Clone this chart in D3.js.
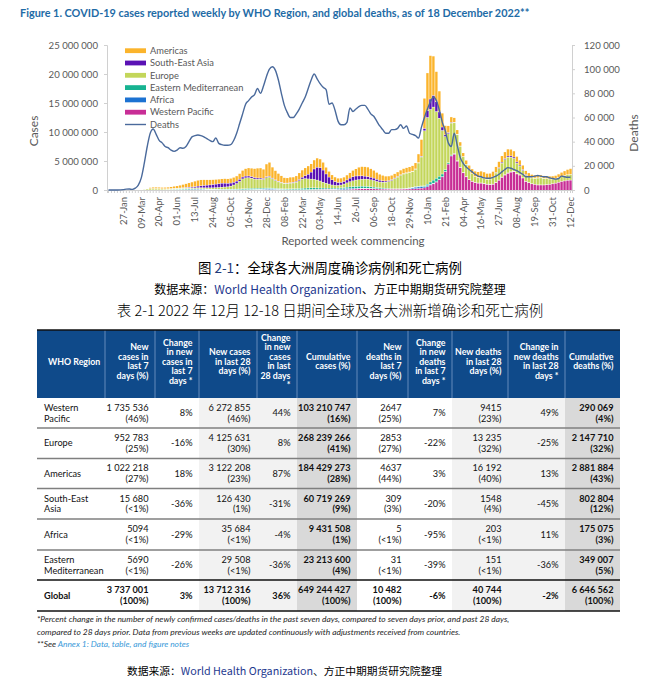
<!DOCTYPE html>
<html>
<head>
<meta charset="utf-8">
<script src="https://d3js.org/d3.v7.min.js"></script>
<style>
  body{margin:0;background:#fff;}
  svg{display:block;font-family:Lato, "Noto Sans", sans-serif;}
  .cjk{font-family:"Noto Sans CJK SC", sans-serif;}
</style>
</head>
<body>
<script>
// ---- weekly cases by region (thousands), first week 23-Dec-2019 ----
var americas = [0,
0,0,0,0,0,0,0,0,0,0,
2,15,70,180,220,230,230,230,240,270,
320,380,420,480,560,650,750,850,950,1020,
1050,1000,950,900,850,820,780,780,800,800,
820,860,900,1000,1150,1300,1400,1450,1550,1700,
1750,1600,2200,2400,1900,1600,1350,1150,950,900,
950,900,950,1150,1250,1350,1450,1450,1550,1600,
1500,1350,1150,1000,850,800,750,750,750,850,
950,1100,1250,1500,1600,1650,1650,1500,1350,1200,
1050,950,850,780,750,760,780,800,850,880,
900,950,1050,1500,2900,5200,6500,7500,6800,5200,
3600,2400,1600,1200,950,800,750,700,650,680,
720,800,900,1000,1050,1100,1000,950,950,1000,
1050,1100,1150,1200,1150,1050,950,850,750,650,
600,550,500,480,460,440,450,480,500,550,
600,700,800,900,1022.2];
var southEastAsia = [0,
0,0,0,0,0,0,0,0,0,0,
0,1,3,6,10,15,20,20,25,30,
40,50,60,75,90,110,130,160,200,260,
330,400,450,500,560,600,650,680,650,590,
530,470,410,360,320,300,290,280,260,230,
200,170,150,140,130,120,110,100,90,100,
110,120,150,200,300,500,800,1200,1800,2200,
2300,2100,1600,1200,900,650,500,450,450,500,
600,700,700,650,600,500,450,430,400,350,
300,250,200,170,150,130,110,100,90,80,
75,70,65,70,120,400,1200,1800,2000,1700,
1100,600,300,180,120,90,70,50,40,30,
30,30,30,30,30,30,40,60,80,100,
130,160,180,200,220,230,200,170,150,120,
100,80,70,60,50,45,40,35,30,25,
20,18,17,16,15.68];
var europe = [0,
0,0,0,0,0,0,0,0,1,10,
40,110,180,220,220,210,190,160,140,120,
110,110,110,120,130,140,140,140,145,160,
170,180,200,220,240,270,300,340,380,420,
520,700,950,1300,1700,1850,1850,1750,1600,1550,
1550,1500,1800,1900,1600,1350,1150,1000,900,900,
950,1000,1100,1350,1600,1650,1550,1500,1450,1350,
1200,1000,850,700,550,480,450,480,600,750,
900,1000,1100,1150,1200,1250,1250,1200,1150,1050,
1000,1000,1050,1200,1400,1700,2000,2300,2500,2600,
2650,2700,3000,4000,5000,9500,11500,12500,12600,11500,
10000,7500,5700,5000,5500,5300,4500,3600,2700,2100,
1700,1300,1000,900,950,850,800,900,1150,1600,
2000,2400,2600,2700,2500,2200,1800,1500,1250,1050,
950,950,1000,1150,1200,1100,1000,900,800,750,
800,850,900,950,952.8];
var easternMed = [0,
0,0,0,0,0,0,0,0,0,1,
5,15,25,30,40,45,50,55,65,75,
90,100,110,120,130,130,130,120,115,110,
100,95,90,90,90,95,100,110,110,110,
115,120,125,140,160,180,200,200,190,180,
170,160,150,140,135,130,125,125,130,140,
150,165,180,200,230,260,280,290,280,260,
240,220,200,190,180,170,170,180,200,230,
270,310,330,340,340,320,300,270,240,210,
180,160,140,120,110,100,95,95,95,95,
95,95,100,110,130,150,250,400,550,600,
550,450,320,220,150,100,70,50,40,30,
25,20,20,20,20,20,20,25,30,35,
40,50,60,70,70,65,60,50,40,35,
30,25,20,18,15,12,10,10,9,8,
7,7,6,6,5.69];
var africa = [0,
0,0,0,0,0,0,0,0,0,0,
0,1,2,5,7,9,12,15,20,25,
30,40,50,60,75,90,110,125,130,130,
120,100,80,65,55,50,45,40,35,35,
35,40,40,45,50,55,60,65,75,85,
100,120,140,150,140,120,100,80,60,50,
45,40,40,40,40,40,40,40,40,40,
40,40,45,55,70,90,120,150,170,180,
160,140,120,100,90,80,70,60,50,40,
30,25,20,18,15,15,15,15,18,40,
100,180,250,270,250,200,180,120,80,60,
50,40,30,25,20,20,20,20,20,20,
20,20,25,30,40,40,30,30,25,20,
20,20,20,20,20,20,15,15,15,15,
12,12,10,10,10,10,8,8,7,7,
6,6,5,5,5.09];
var westernPacific = [0,
0,0,0,1,10,20,30,12,5,5,
8,10,15,20,20,15,10,8,7,7,
7,7,8,10,12,14,16,20,25,35,
40,45,45,40,35,30,30,28,28,28,
28,30,32,35,40,45,50,55,60,65,
70,75,80,85,80,70,60,50,45,45,
45,50,55,55,55,60,70,80,90,95,
100,105,110,110,100,90,85,85,90,110,
140,170,200,230,250,260,270,260,240,220,
200,180,170,160,150,150,150,160,180,200,
220,240,260,300,350,400,600,900,1100,1400,
1800,2300,3200,4500,5900,6200,5000,3900,3000,2300,
1800,1500,1300,1200,1200,1100,1000,950,1000,1300,
1700,2200,2600,2900,3100,3200,2800,2600,2100,1500,
1300,1100,1000,900,900,900,950,1000,1100,1200,
1350,1500,1600,1700,1735.5];
// global weekly deaths (thousands)
var deaths = [
0,0,0,0,0.1,0.3,0.7,0.8,0.5,1.5,
4,10,22,36,47,50.5,46,41,39,36,
35,33,32,33,35,34.5,36,40,44,45,
45.5,45,44,42.5,41,40,43,38.6,37.5,37,
37,37.5,41,47,55,63,71,74,77,79,
84,80,86,94,100,102,99,91,80,70,
64,60,60,63,67,72,77,84,91,96,
92,88,85,83,71,72,66,57,54,54,
56,68,65,67,69,70,70,67,63,61,
57,53,50,47,47,50,50,51,54,51,
53,47,46,45,43,52,60,67,73,77,
74,66,56,49,39,36,47,37,27,22,
19,17,15,13,11.5,11,10,9.7,9.7,10.5,
11.5,13,15,17,18.5,18,17,16,14.5,13,
11,11,11,11.5,12,11.5,11,11,10,9.5,
9,9.5,11.5,11,10.5,10.5];
// x tick labels, every 6th week starting with week index 5
var tickLabels = ["27-Jan","09-Mar","20-Apr","01-Jun","13-Jul","24-Aug","05-Oct","16-Nov","28-Dec",
  "08-Feb","22-Mar","03-May","14-Jun","26-Jul","06-Sep","18-Oct","29-Nov",
  "10-Jan","21-Feb","04-Apr","16-May","27-Jun","08-Aug","19-Sep","31-Oct","12-Dec"];
var regionKeys = ["westernPacific","africa","easternMed","europe","southEastAsia","americas"];
var regionNames = ["Western Pacific","Africa","Eastern Mediterranean","Europe","South-East Asia","Americas"];
var regionColors = ["#c82e96","#1c72d2","#17b391","#c3d65a","#5a12b4","#fbb42c"];
var deathColor = "#4a6a9c";

// ---- table ----
var tableRegions = [["Western","Pacific"],["Europe"],["Americas"],["South-East","Asia"],["Africa"],["Eastern","Mediterranean"],["Global"]];
var newCases7 = ["1 735 536","952 783","1 022 218","15 680","5094","5690","3 737 001"];
var newCases7Pct = ["(46%)","(25%)","(27%)","(<1%)","(<1%)","(<1%)","(100%)"];
var chgCases7 = ["8%","-16%","18%","-36%","-29%","-26%","3%"];
var newCases28 = ["6 272 855","4 125 631","3 122 208","126 430","35 684","29 508","13 712 316"];
var newCases28Pct = ["(46%)","(30%)","(23%)","(1%)","(<1%)","(<1%)","(100%)"];
var chgCases28 = ["44%","8%","87%","-31%","-4%","-36%","36%"];
var cumCases = ["103 210 747","268 239 266","184 429 273","60 719 269","9 431 508","23 213 600","649 244 427"];
var cumCasesPct = ["(16%)","(41%)","(28%)","(9%)","(1%)","(4%)","(100%)"];
var newDeaths7 = ["2647","2853","4637","309","5","31","10 482"];
var newDeaths7Pct = ["(25%)","(27%)","(44%)","(3%)","(<1%)","(<1%)","(100%)"];
var chgDeaths7 = ["7%","-22%","3%","-20%","-95%","-39%","-6%"];
var newDeaths28 = ["9415","13 235","16 192","1548","203","151","40 744"];
var newDeaths28Pct = ["(23%)","(32%)","(40%)","(4%)","(<1%)","(<1%)","(100%)"];
var chgDeaths28 = ["49%","-25%","13%","-45%","11%","-36%","-2%"];
var cumDeaths = ["290 069","2 147 710","2 881 884","802 804","175 075","349 007","6 646 562"];
var cumDeathsPct = ["(4%)","(32%)","(43%)","(12%)","(3%)","(5%)","(100%)"];
var headers = [["WHO Region"],["New","cases in","last 7","days (%)"],["Change","in new","cases in","last 7","days *"],
  ["New cases","in last 28","days (%)"],["Change","in new","cases","in last","28 days","*"],["Cumulative","cases (%)"],
  ["New","deaths in","last 7","days (%)"],["Change","in new","deaths","in last 7","days *"],
  ["New deaths","in last 28","days (%)"],["Change in","new deaths","in last 28","days *"],["Cumulative","deaths (%)"]];

var svg = d3.select("body").append("svg").attr("width",658).attr("height",682);

function fitWidth(t, target){
  var w = t.node().getComputedTextLength();
  var fs = parseFloat(t.attr("font-size"));
  t.attr("font-size", fs*target/w);
}

// title
var title = svg.append("text").attr("x",20).attr("y",17)
  .attr("font-size",12).attr("font-weight","bold").attr("fill","#1e6ba6")
  .text("Figure 1. COVID-19 cases reported weekly by WHO Region, and global deaths, as of 18 December 2022**");
fitWidth(title, 510);

// ---- chart ----
var nWeeks = deaths.length;
var x = d3.scaleBand().domain(d3.range(nWeeks)).range([107,572]).paddingInner(0.2).paddingOuter(0.1);
var yC = d3.scaleLinear().domain([0,25000000]).range([190,45]);
var yD = d3.scaleLinear().domain([0,120000]).range([190,45]);
var fmt = d3.formatLocale({decimal:".",thousands:" ",grouping:[3],currency:["",""]}).format(",d");

var series = {americas:americas, southEastAsia:southEastAsia, europe:europe,
  easternMed:easternMed, africa:africa, westernPacific:westernPacific};
var rows = d3.range(nWeeks).map(function(i){
  var r = {i:i};
  regionKeys.forEach(function(k){ r[k] = series[k][i]*1000; });
  return r;
});
var stacked = d3.stack().keys(regionKeys)(rows);

var bars = svg.append("g").selectAll("g").data(stacked).enter().append("g")
  .attr("fill", function(d,i){ return regionColors[i]; });
bars.selectAll("rect").data(function(d){ return d; }).enter().append("rect")
  .attr("x", function(d){ return x(d.data.i); })
  .attr("width", x.bandwidth())
  .attr("y", function(d){ return yC(d[1]) + 0.45; })
  .attr("height", function(d){ return Math.max(0, yC(d[0]) - yC(d[1]) - 0.45); });

// axes
function styleAxis(g){
  g.selectAll("path.domain").attr("stroke","#d0d0d0");
  g.selectAll(".tick line").attr("stroke","#d0d0d0");
  g.selectAll(".tick text").attr("fill","#595959").attr("font-family","Lato, sans-serif");
}
svg.append("g").attr("transform","translate(107,0)")
  .call(d3.axisLeft(yC).tickValues(d3.range(0,25000001,5000000)).tickFormat(fmt).tickSize(3).tickPadding(6))
  .attr("font-size",9.6).call(styleAxis);
svg.append("g").attr("transform","translate(572,0)")
  .call(d3.axisRight(yD).tickValues(d3.range(0,120001,20000)).tickFormat(fmt).tickSize(3).tickPadding(9))
  .attr("font-size",9.6).call(styleAxis);
var labelAt = {};
tickLabels.forEach(function(l,k){ labelAt[5+6*k] = l; });
var xAxisG = svg.append("g").attr("transform","translate(0,190)")
  .call(d3.axisBottom(x).tickValues(d3.range(nWeeks)).tickSizeOuter(0).tickSize(3)
    .tickFormat(function(i){ return labelAt[i] || ""; }))
  .attr("font-size",9.5).call(styleAxis);
xAxisG.selectAll(".tick text").attr("transform","rotate(-90)").attr("text-anchor","end")
  .attr("x",-7).attr("y",0).attr("dy","0.35em");

// deaths line
var line = d3.line().x(function(d,i){ return x(i) + x.bandwidth()/2; })
  .y(function(d){ return yD(d*1000); }).curve(d3.curveMonotoneX);
svg.append("path").datum(deaths).attr("d",line).attr("fill","none")
  .attr("stroke",deathColor).attr("stroke-width",1.4);

// axis titles
svg.append("text").attr("transform","translate(38,131) rotate(-90)").attr("text-anchor","middle")
  .attr("font-size",12).attr("fill","#595959").text("Cases");
svg.append("text").attr("transform","translate(638,133) rotate(-90)").attr("text-anchor","middle")
  .attr("font-size",12).attr("fill","#595959").text("Deaths");
svg.append("text").attr("x",353).attr("y",245).attr("text-anchor","middle")
  .attr("font-size",11.5).attr("fill","#595959").text("Reported week commencing");

// legend
var legendItems = regionNames.map(function(n,i){ return {name:n, color:regionColors[i]}; }).reverse();
legendItems.push({name:"Deaths", color:deathColor, line:true});
var lg = svg.append("g").selectAll("g").data(legendItems).enter().append("g")
  .attr("transform", function(d,i){ return "translate(125," + (50.7 + i*12.3) + ")"; });
lg.append("rect").attr("x",0).attr("width",21)
  .attr("y", function(d){ return d.line ? -0.7 : -2.4; })
  .attr("height", function(d){ return d.line ? 1.4 : 4.8; })
  .attr("fill", function(d){ return d.color; });
lg.append("text").attr("x",25).attr("dy","0.35em").attr("font-size",9.3).attr("fill","#595959")
  .text(function(d){ return d.name; });

// ---- captions ----
var cap1 = svg.append("text").attr("class","cjk").attr("x",330).attr("y",272.5).attr("text-anchor","middle")
  .attr("font-size",12.5).attr("fill","#000");
cap1.append("tspan").text("图 ");
cap1.append("tspan").attr("fill","#1f3a7a").text("2-1");
cap1.append("tspan").text("：全球各大洲周度确诊病例和死亡病例");
fitWidth(cap1, 264);

function sourceLine(y, fs, cx, w){
  var t = svg.append("text").attr("class","cjk").attr("x",cx).attr("y",y).attr("text-anchor","middle")
    .attr("font-size",fs).attr("fill","#000");
  t.append("tspan").text("数据来源：");
  t.append("tspan").attr("fill","#1f3a8f").text("World Health Organization");
  t.append("tspan").text("、方正中期期货研究院整理");
  fitWidth(t, w);
  if (parseFloat(t.attr("font-size")) > fs) t.attr("font-size", fs);
}
sourceLine(293.5, 12, 330, 374);

var tt = svg.append("text").attr("class","cjk").attr("x",330).attr("y",316).attr("text-anchor","middle")
  .attr("font-size",14.5).attr("font-weight",300).attr("fill","#000")
  .text("表 2-1 2022 年 12月 12-18 日期间全球及各大洲新增确诊和死亡病例");
fitWidth(tt, 474);
if (parseFloat(tt.attr("font-size")) > 14.5) tt.attr("font-size", 14.5);

// ---- table ----
var cols = [37,105,155,199,257,297,357,408,452,508,565,620];
var headTop = 330, headBottom = 398;
var rowLines = [398,428,458.5,488.5,519,550,580,611];
var colFill = ["#fff","#fff","#fff","#f2f2f2","#f2f2f2","#d9d9d9","#fff","#fff","#f2f2f2","#f2f2f2","#d9d9d9"];
var tg = svg.append("g");

tg.selectAll("rect.bg").data(colFill).enter().append("rect")
  .attr("x", function(d,i){ return cols[i]; }).attr("width", function(d,i){ return cols[i+1]-cols[i]; })
  .attr("y", headBottom).attr("height", rowLines[7]-headBottom).attr("fill", function(d){ return d; });
tg.append("rect").attr("x",cols[0]).attr("y",headTop).attr("width",cols[11]-cols[0])
  .attr("height",headBottom-headTop).attr("fill","#0f4a8a");
tg.selectAll("line.hsep").data(cols.slice(1,11)).enter().append("line")
  .attr("x1",function(d){return d;}).attr("x2",function(d){return d;})
  .attr("y1",headTop).attr("y2",headBottom).attr("stroke","#7a9cc8").attr("stroke-width",0.8);
tg.append("line").attr("x1",cols[0]).attr("x2",cols[11]).attr("y1",headTop).attr("y2",headTop)
  .attr("stroke","#111").attr("stroke-width",1.6);

// header text
headers.forEach(function(lines, c){
  var n = lines.length;
  var t = tg.append("text").attr("font-size",8.8).attr("font-weight","bold").attr("fill","#fff")
    .attr("text-anchor", c === 0 ? "start" : "end");
  lines.forEach(function(l,k){
    t.append("tspan").attr("x", c === 0 ? 48 : cols[c+1]-6.5)
      .attr("y", 361.5 + (k-(n-1)/2)*9.5 + 3).text(l);
  });
});

// row separators
rowLines.slice(1,6).forEach(function(y){
  tg.append("line").attr("x1",cols[0]).attr("x2",cols[11]).attr("y1",y).attr("y2",y)
    .attr("stroke","#7f7f7f").attr("stroke-width",1.4);
});
[rowLines[6], rowLines[7]].forEach(function(y){
  tg.append("line").attr("x1",cols[0]).attr("x2",cols[11]).attr("y1",y).attr("y2",y)
    .attr("stroke","#111").attr("stroke-width",1.5);
});

var bodyCols = [
  {main:newCases7, sub:newCases7Pct}, {main:chgCases7},
  {main:newCases28, sub:newCases28Pct}, {main:chgCases28},
  {main:cumCases, sub:cumCasesPct, bold:true},
  {main:newDeaths7, sub:newDeaths7Pct}, {main:chgDeaths7},
  {main:newDeaths28, sub:newDeaths28Pct}, {main:chgDeaths28},
  {main:cumDeaths, sub:cumDeathsPct, bold:true}
];
tableRegions.forEach(function(reg, r){
  var yc = (rowLines[r] + rowLines[r+1]) / 2;
  var isGlobal = r === tableRegions.length - 1;
  var t = tg.append("text").attr("font-size",9.2).attr("fill","#111")
    .attr("font-weight", isGlobal ? "bold" : "normal");
  reg.forEach(function(l,k){
    t.append("tspan").attr("x",44).attr("y", yc + (k-(reg.length-1)/2)*10.6 + 3.2).text(l);
  });
  bodyCols.forEach(function(col, c){
    var xr = cols[c+2] - 6.5;
    var fw = (col.bold || isGlobal) ? "bold" : "normal";
    if (col.sub) {
      tg.append("text").attr("x",xr).attr("y",yc-5.3+3.2).attr("text-anchor","end")
        .attr("font-size",9.2).attr("font-weight",fw).attr("fill","#111").text(col.main[r]);
      tg.append("text").attr("x",xr).attr("y",yc+5.3+3.2).attr("text-anchor","end")
        .attr("font-size",9.2).attr("font-weight",fw).attr("fill","#111").text(col.sub[r]);
    } else {
      tg.append("text").attr("x",xr).attr("y",yc+3.2).attr("text-anchor","end")
        .attr("font-size",9.2).attr("font-weight",fw).attr("fill","#111").text(col.main[r]);
    }
  });
});

// footnotes
var f1 = svg.append("text").attr("x",37).attr("y",621.5).attr("font-size",9.5).attr("font-style","italic")
  .attr("fill","#262626").text("*Percent change in the number of newly confirmed cases/deaths in the past seven days, compared to seven days prior, and past 28 days,");
fitWidth(f1, 473);
var f2 = svg.append("text").attr("x",37).attr("y",635).attr("font-size",9.5).attr("font-style","italic")
  .attr("fill","#262626").text("compared to 28 days prior. Data from previous weeks are updated continuously with adjustments received from countries.");
f2.attr("font-size", f1.attr("font-size"));
var f3 = svg.append("text").attr("x",37).attr("y",646.5).attr("font-size",f1.attr("font-size")).attr("font-style","italic")
  .attr("fill","#262626");
f3.append("tspan").text("**See ");
f3.append("tspan").attr("fill","#3a9ad9").text("Annex 1: Data, table, and figure notes");

sourceLine(675, 11, 284.5, 315);
</script>
</body>
</html>
